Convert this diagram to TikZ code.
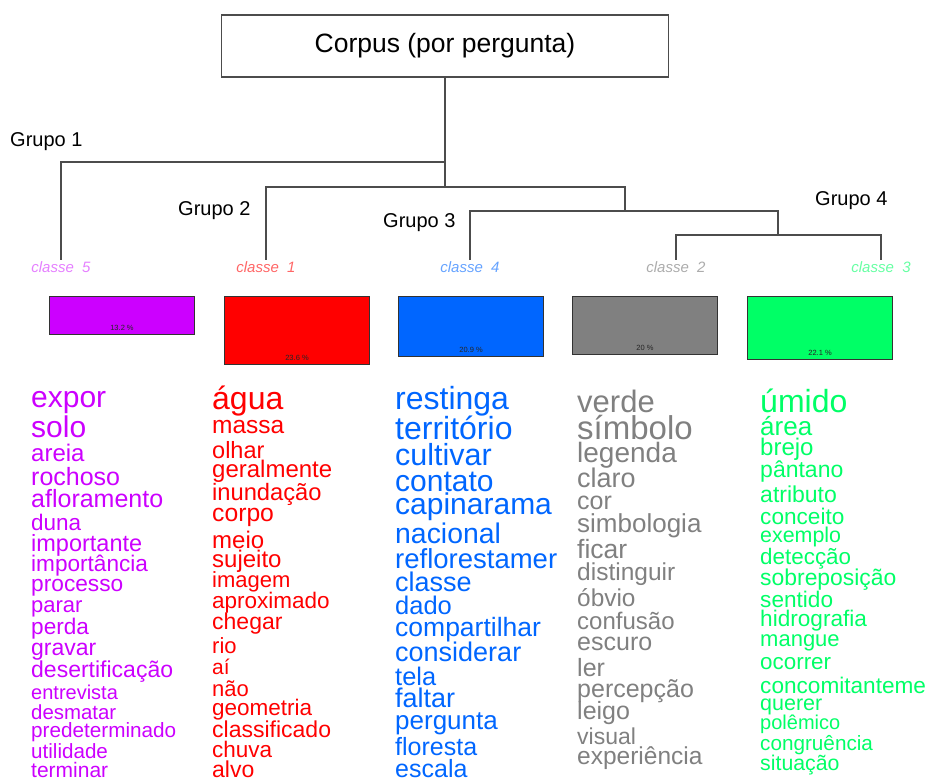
\documentclass[tikz,border=0pt]{standalone}
\usepackage{fontspec}
\setmainfont{Liberation Sans}
\usepackage{tikz}

\definecolor{cl5}{HTML}{CC00FF}
\definecolor{cl1}{HTML}{FF0000}
\definecolor{cl4}{HTML}{0066FF}
\definecolor{cl2}{HTML}{808080}
\definecolor{cl3}{HTML}{00FF66}

\tikzset{
  branch/.style={draw=black!70, line width=1.2pt},
  grupo/.style={font=\fontsize{20}{20}\selectfont, anchor=base west, inner sep=0pt},
  classe/.style={font=\fontsize{15}{15}\selectfont\itshape, anchor=base, inner sep=1pt},
  bar/.style={draw=black!80, line width=1pt, anchor=north west, inner sep=0pt, minimum width=145pt},
  pct/.style={font=\fontsize{7.5}{7.5}\selectfont, text=black!85, inner sep=0pt},
  word/.style={anchor=mid west, inner sep=0pt, yshift=-7pt},
}

\begin{document}
\begin{tikzpicture}[x=1pt, y=-1pt]
			\useasboundingbox (0,0) rectangle (928,778);
			
			% Root box
			\node[draw=black!70, line width=1.3pt, minimum width=447pt, minimum height=62pt,
			      font=\fontsize{26.5}{26.5}\selectfont] (corpus) at (445,46) {Corpus (por pergunta)};
			
			% Split points of the dendrogram
			\coordinate (k1) at (445,162);
			\coordinate (k2) at (445,187);
			\coordinate (k3) at (625,211);
			\coordinate (k4) at (778,235);
			
			% Class labels
			\node[classe, text=cl5!50] (c5) at (61,272) {classe\ \ 5};
			\node[classe, text=cl1!60] (c1) at (266,272) {classe\ \ 1};
			\node[classe, text=cl4!60] (c4) at (470,272) {classe\ \ 4};
			\node[classe, text=cl2!65] (c2) at (676,272) {classe\ \ 2};
			\node[classe, text=cl3!60] (c3) at (881,272) {classe\ \ 3};
			
			% Branches
			\draw[branch] (corpus.south) -- (k2);
			\draw[branch] (k1) -| (c5.north);
			\draw[branch] (k2) -| (c1.north);
			\draw[branch] (k2) -| (k3);
			\draw[branch] (k3) -| (c4.north);
			\draw[branch] (k3) -| (k4);
			\draw[branch] (k4) -| (c2.north);
			\draw[branch] (k4) -| (c3.north);
			
			% Group labels
			\node[grupo] (g1) at (10,147) {Grupo 1};
			\node[grupo] (g2) at (178,215) {Grupo 2};
			\node[grupo] (g3) at (383,227) {Grupo 3};
			\node[grupo] (g4) at (815,205) {Grupo 4};
			
			% Bars with class sizes
			\node[bar, fill=cl5, minimum height=38pt] (bar5) at (49,296) {};
			\node[bar, fill=cl1, minimum height=68pt] (bar1) at (224,296) {};
			\node[bar, fill=cl4, minimum height=60pt] (bar4) at (398,296) {};
			\node[bar, fill=cl2, minimum height=58pt] (bar2) at (572,296) {};
			\node[bar, fill=cl3, minimum height=63pt] (bar3) at (747,296) {};
			\node[pct] (p5) at ([yshift=7pt]bar5.south) {13.2 \%};
			\node[pct] (p1) at ([yshift=7pt]bar1.south) {23.6 \%};
			\node[pct] (p4) at ([yshift=7pt]bar4.south) {20.9 \%};
			\node[pct] (p2) at ([yshift=7pt]bar2.south) {20 \%};
			\node[pct] (p3) at ([yshift=7pt]bar3.south) {22.1 \%};
			
			% Word lists, one column per class
			\foreach \w/\s/\y [count=\i] in {expor/30/398, solo/30/428, areia/24/452, rochoso/25/476,
				afloramento/25/498, duna/22.5/521, importante/23.5/542, importância/22.6/562,
				processo/22.7/582, parar/22/603, perda/22.6/625, gravar/23/646,
				desertificação/23/668, entrevista/20/690, desmatar/20.4/710,
				predeterminado/20.7/728, utilidade/20.6/749, terminar/21/768} {
				\node[word, text=cl5, font=\fontsize{\s}{\s}\selectfont] (wa\i) at (31,\y) {\w};
			}
			\foreach \w/\s/\y [count=\i] in {água/32/400, massa/24.5/424, olhar/23.5/449,
				geralmente/24/468, inundação/23.7/491, corpo/24.7/512, meio/24/539,
				sujeito/24/558, imagem/22/578, aproximado/22.5/599, chegar/23/620,
				rio/22/644, aí/21/665, não/22/687, geometria/22.5/706,
				classificado/23/728, chuva/22.5/748, alvo/23/768} {
				\node[word, text=cl1, font=\fontsize{\s}{\s}\selectfont] (wb\i) at (212,\y) {\w};
			}
			\foreach \w/\s/\y [count=\i] in {restinga/32/400, território/32/430, cultivar/30.5/456,
				contato/30/482, capinarama/30/505, nacional/28.4/534, reflorestamer/27.5/559,
				classe/27/582, dado/25.5/605, compartilhar/26.5/627, considerar/27/652,
				tela/25.4/676, faltar/27/698, pergunta/26/720, floresta/25/746, escala/25/768} {
				\node[word, text=cl4, font=\fontsize{\s}{\s}\selectfont] (wc\i) at (395,\y) {\w};
			}
			\foreach \w/\s/\y [count=\i] in {verde/31/403, símbolo/33/430, legenda/28/453,
				claro/27/478, cor/25/500, simbologia/26/523, ficar/26.5/549, distinguir/24.5/571,
				óbvio/24.4/597, confusão/24/620, escuro/25/641, ler/25/667, percepção/25/688,
				leigo/25/710, visual/23/735, experiência/24.5/755} {
				\node[word, text=cl2, font=\fontsize{\s}{\s}\selectfont] (wd\i) at (577,\y) {\w};
			}
			\foreach \w/\s/\y [count=\i] in {úmido/32/403, área/26/426, brejo/24/446,
				pântano/23/468, atributo/23/493, conceito/22.6/515, exemplo/21.4/533,
				detecção/22.4/555, sobreposição/22.9/576, sentido/22.6/598,
				hidrografia/22.6/617, mangue/22/637, ocorrer/22.4/660,
				concomitanteme/22.6/684, querer/21.5/701, polêmico/20/720,
				congruência/20.7/741, situação/21.3/761} {
				\node[word, text=cl3, font=\fontsize{\s}{\s}\selectfont] (we\i) at (760,\y) {\w};
			}
			
		\end{tikzpicture}
\end{document}
